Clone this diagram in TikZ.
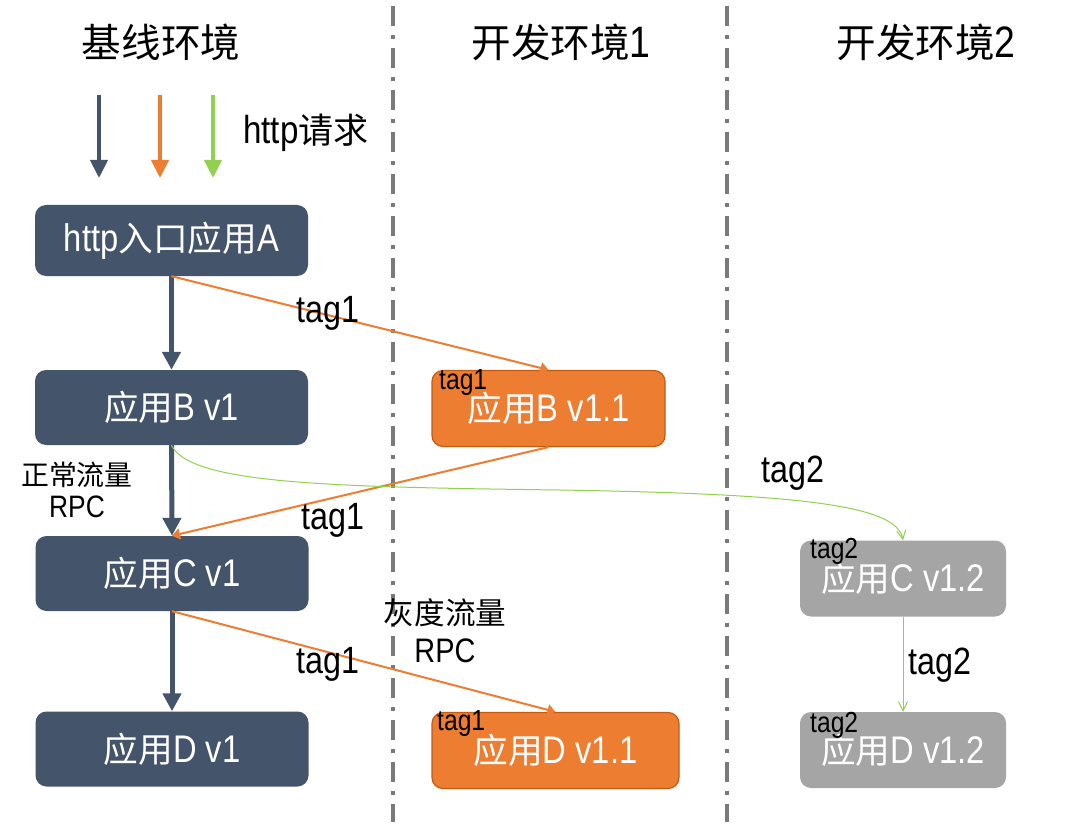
\documentclass[tikz,border=0pt]{standalone}
\usepackage{fontspec}
\setmainfont{Liberation Sans}[FakeStretch=0.85]
\newfontfamily\cjk[Scale=0.9]{Noto Sans CJK SC}
\usetikzlibrary{arrows.meta}
\definecolor{slate}{HTML}{44546A}
\definecolor{orng}{HTML}{ED7D31}
\definecolor{orngdark}{HTML}{C55A11}
\definecolor{grayb}{HTML}{A5A5A5}
\definecolor{grn}{HTML}{92D050}
\definecolor{sep}{HTML}{7A7A7A}
\begin{document}
\begin{tikzpicture}[x=1pt,y=-1pt,
  box/.style={rounded corners=11pt, text=white, inner sep=0pt, font=\fontsize{38.5}{40}\selectfont},
  basebox/.style={box, fill=slate, minimum width=273pt, minimum height=75pt},
  devbox/.style={box, fill=orng, draw=orngdark, line width=1.2pt, minimum height=76pt},
  graybox/.style={box, fill=grayb, minimum width=206pt, minimum height=76pt},
  title/.style={font=\fontsize{44}{46}\selectfont},
  biglab/.style={font=\fontsize{38}{40}\selectfont},
  smalllab/.style={font=\fontsize{29}{30}\selectfont, anchor=west, inner sep=0pt},
  rpclab/.style={align=center},
  sepline/.style={sep, line width=3.8pt, dash pattern=on 20pt off 9pt on 4pt off 9pt},
  mainarr/.style={slate, line width=5pt, -{Triangle[width=18pt,length=18pt]}},
  toparr/.style={line width=4pt, -{Triangle[width=17pt,length=18pt]}},
  orarr/.style={orng, line width=2pt, -{Triangle[width=11pt,length=8pt]}},
  grarr/.style={grn, line width=1pt, -{Straight Barb[width=9pt,length=9pt]}}
]
\useasboundingbox (0,0) rectangle (1080,832);
\fill[white] (0,0) rectangle (1080,832);

% separators
\coordinate (s1t) at (393,6); \coordinate (s1b) at (393,822);
\coordinate (s2t) at (727,6); \coordinate (s2b) at (727,822);
\draw[sepline] (s1t) -- (s1b);
\draw[sepline] (s2t) -- (s2b);

% titles
\node[title] (t1) at (161,42) {{\cjk 基线环境}};
\node[title] (t2) at (561,42) {{\cjk 开发环境}1};
\node[title] (t3) at (926,42) {{\cjk 开发环境}2};

% top http arrows
\coordinate (h1s) at (99,95);  \coordinate (h1e) at (99,178);
\coordinate (h2s) at (160,95); \coordinate (h2e) at (160,178);
\coordinate (h3s) at (213,95); \coordinate (h3e) at (213,178);
\draw[toparr, slate] (h1s) -- (h1e);
\draw[toparr, orng] (h2s) -- (h2e);
\draw[toparr, grn] (h3s) -- (h3e);
\node[font=\fontsize{39}{40}\selectfont, anchor=west, inner sep=0pt] (req) at (243,133) {http{\cjk 请求}};

% baseline boxes
\node[basebox, minimum height=71pt] (A) at (171.5,240.5) {http{\cjk 入口应用}A};
\node[basebox] (B) at (171.5,407.5) {{\cjk 应用}B v1};
\node[basebox] (C) at (172,573.5) {{\cjk 应用}C v1};
\node[basebox] (D) at (172,749) {{\cjk 应用}D v1};

% dev1 boxes
\node[devbox, minimum width=233pt] (B11) at (548.5,408.5) {{\cjk 应用}B v1.1};
\node[devbox, minimum width=247pt] (D11) at (555.5,750.5) {{\cjk 应用}D v1.1};

% dev2 boxes
\node[graybox] (C12) at (903,578.5) {{\cjk 应用}C v1.2};
\node[graybox] (D12) at (903,750) {{\cjk 应用}D v1.2};

% small tags
\node[smalllab] (lb11) at (439,383) {tag1};
\node[smalllab] (ld11) at (437,724) {tag1};
\node[smalllab] (lc12) at (810,551) {tag2};
\node[smalllab] (ld12) at (810,725) {tag2};

% main flow
\draw[mainarr] (A.south) -- (B.north);
\draw[mainarr] (B.south) -- (C.north);
\draw[mainarr] (C.south) -- (D.north);

% side labels
\node[rpclab, font=\fontsize{31}{32}\selectfont] (n1) at (77,490) {{\cjk 正常流量}\\RPC};
\node[rpclab, font=\fontsize{34}{38}\selectfont] (n2) at (445,631) {{\cjk 灰度流量}\\RPC};

% gray (tag1) traffic
\draw[orarr] (A.south) -- (B11.north);
\draw[orarr] (B11.south) -- (C.north);
\draw[orarr] (C.south) -- (D11.north);
\node[biglab] (l1) at (328,313) {tag1};
\node[biglab] (l2) at (333,520) {tag1};
\node[biglab] (l3) at (328,664) {tag1};

% tag2 traffic
\coordinate (gm) at (560,490);
\draw[grarr] (B.south) .. controls (190,484) and (330,487) .. (gm)
  .. controls (800,494) and (897,505) .. (C12.north);
\draw[grarr] (C12.south) -- (D12.north);
\node[biglab] (l4) at (793,473) {tag2};
\node[biglab] (l5) at (940,665) {tag2};
\end{tikzpicture}
\end{document}
